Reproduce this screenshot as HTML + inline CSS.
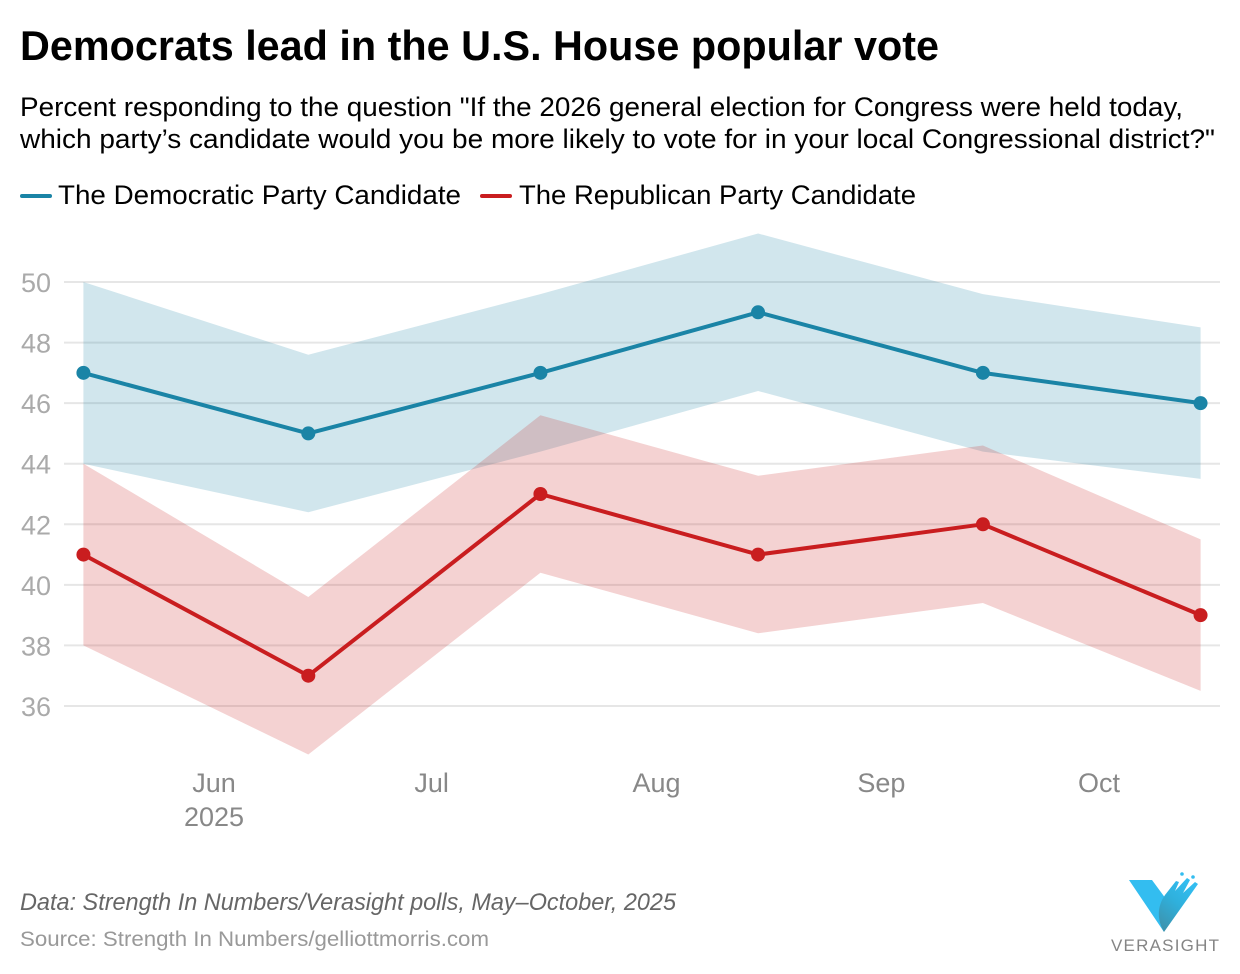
<!DOCTYPE html>
<html lang="en">
<head>
<meta charset="utf-8">
<title>Democrats lead in the U.S. House popular vote</title>
<style>
html,body{margin:0;padding:0;background:#fff;}
svg{display:block;font-family:"Liberation Sans",sans-serif;}
</style>
</head>
<body>
<svg id="chart" width="1240" height="974" viewBox="0 0 1240 974" xmlns="http://www.w3.org/2000/svg">
<rect x="0" y="0" width="1240" height="974" fill="#ffffff"/>
<text x="20" y="60" font-size="42" font-weight="700" fill="#000" textLength="919" lengthAdjust="spacingAndGlyphs">Democrats lead in the U.S. House popular vote</text>
<text x="20" y="116" font-size="27" fill="#000" textLength="1163" lengthAdjust="spacingAndGlyphs">Percent responding to the question "If the 2026 general election for Congress were held today,</text>
<text x="20" y="148" font-size="27" fill="#000" textLength="1195" lengthAdjust="spacingAndGlyphs">which party’s candidate would you be more likely to vote for in your local Congressional district?"</text>
<g>
<line x1="22" x2="50" y1="196" y2="196" stroke="#1a84a6" stroke-width="4" stroke-linecap="round"/>
<text x="58" y="204" font-size="27" fill="#000" textLength="403" lengthAdjust="spacingAndGlyphs">The Democratic Party Candidate</text>
<line x1="482" x2="510" y1="196" y2="196" stroke="#c91d1f" stroke-width="4" stroke-linecap="round"/>
<text x="519" y="204" font-size="27" fill="#000" textLength="397" lengthAdjust="spacingAndGlyphs">The Republican Party Candidate</text>
</g>
<g id="grid"></g>
<g id="yaxis"></g>
<g id="xaxis"></g>
<g id="bands"></g>
<g id="lines"></g>
<text x="20" y="910" font-size="24" font-style="italic" fill="#666" textLength="656" lengthAdjust="spacingAndGlyphs">Data: Strength In Numbers/Verasight polls, May–October, 2025</text>
<text x="20" y="946" font-size="21.5" fill="#999" textLength="469" lengthAdjust="spacingAndGlyphs">Source: Strength In Numbers/gelliottmorris.com</text>
<g>
<defs>
<linearGradient id="logoGrad" x1="0" y1="1" x2="0.6" y2="0">
<stop offset="0" stop-color="#3f8ea6"/>
<stop offset="0.6" stop-color="#2fb0dc"/>
<stop offset="1" stop-color="#33bdf0"/>
</linearGradient>
</defs>
<polygon points="1129,880 1152,880 1166,899 1160,912 1164,932" fill="#33bdf0"/>
<path d="M1164,932 C1156,918 1158,905 1165,895 L1176,881 L1179,882 L1175,891 L1187,878 L1190,880 L1183,893 L1195,882 L1198,884 Z" fill="url(#logoGrad)"/>
<circle cx="1182" cy="874" r="1.8" fill="#33bdf0"/>
<circle cx="1193" cy="877" r="1.8" fill="#33bdf0"/>
<text x="1111" y="951" font-size="17" fill="#858585" textLength="108" lengthAdjust="spacing">VERASIGHT</text>
</g>
</svg>
<script>
var yTickValues = [36, 38, 40, 42, 44, 46, 48, 50];
var monthTickDates = ["2025-06-01", "2025-07-01", "2025-08-01", "2025-09-01", "2025-10-01"];
var monthTickLabels = ["Jun", "Jul", "Aug", "Sep", "Oct"];
var yearLabel = "2025";
var pollDates = ["2025-05-14", "2025-06-14", "2025-07-16", "2025-08-15", "2025-09-15", "2025-10-15"];
var demValues = [47, 45, 47, 49, 47, 46];
var demUpper = [50, 47.6, 49.6, 51.6, 49.6, 48.5];
var demLower = [44, 42.4, 44.4, 46.4, 44.4, 43.5];
var repValues = [41, 37, 43, 41, 42, 39];
var repUpper = [44, 39.6, 45.6, 43.6, 44.6, 41.5];
var repLower = [38, 34.4, 40.4, 38.4, 39.4, 36.5];

var NS = "http://www.w3.org/2000/svg";
function yScale(v) { return 282 + (50 - v) * (424 / 14); }
function xScale(d) {
  var days = (Date.parse(d + "T00:00:00Z") - Date.parse("2025-06-01T00:00:00Z")) / 86400000;
  return 214 + days * (885 / 122);
}
function make(parent, tag, attrs) {
  var el = document.createElementNS(NS, tag);
  for (var k in attrs) el.setAttribute(k, attrs[k]);
  parent.appendChild(el);
  return el;
}
function pts(dates, vals) {
  return dates.map(function (d, i) { return xScale(d).toFixed(1) + "," + yScale(vals[i]).toFixed(1); });
}

var grid = document.getElementById("grid");
var yaxis = document.getElementById("yaxis");
yTickValues.forEach(function (v) {
  var ln = make(grid, "line", { x1: 64, x2: 1220, y1: yScale(v), y2: yScale(v), stroke: "#e6e6e6", "stroke-width": 2 });
  
  
  var t = make(yaxis, "text", { x: 51, y: yScale(v) + 10, "text-anchor": "end", "font-size": 27, fill: "#aaaaaa" });
  
  
  t.textContent = v;
});

var xaxis = document.getElementById("xaxis");
monthTickDates.forEach(function (d, i) {
  var t = make(xaxis, "text", { x: xScale(d), y: 792, "text-anchor": "middle", "font-size": 27, fill: "#888888" });
  
  
  t.textContent = monthTickLabels[i];
});
var yr = make(xaxis, "text", { x: xScale(monthTickDates[0]), y: 826, "text-anchor": "middle", "font-size": 27, fill: "#888888" });


yr.textContent = yearLabel;

var bands = document.getElementById("bands");
function band(upper, lower, color) {
  var rev = pollDates.slice().reverse();
  var poly = pts(pollDates, upper).concat(pts(rev, lower.slice().reverse())).join(" ");
  return make(bands, "polygon", { points: poly, fill: color, "fill-opacity": 0.2 });
}
var demBand = band(demUpper, demLower, "#1a84a6");


var repBand = band(repUpper, repLower, "#c91d1f");



var lines = document.getElementById("lines");
function series(vals, color) {
  var line = make(lines, "polyline", { points: pts(pollDates, vals).join(" "), fill: "none", stroke: color, "stroke-width": 4, "stroke-linejoin": "round" });
  return line;
}
function dots(vals, color) {
  vals.forEach(function (v, i) {
    var c = make(lines, "circle", { cx: xScale(pollDates[i]), cy: yScale(v), r: 7, fill: color });
    
    
  });
}
var demLine = series(demValues, "#1a84a6");


dots(demValues, "#1a84a6");
var repLine = series(repValues, "#c91d1f");


dots(repValues, "#c91d1f");
</script>
</body>
</html>
